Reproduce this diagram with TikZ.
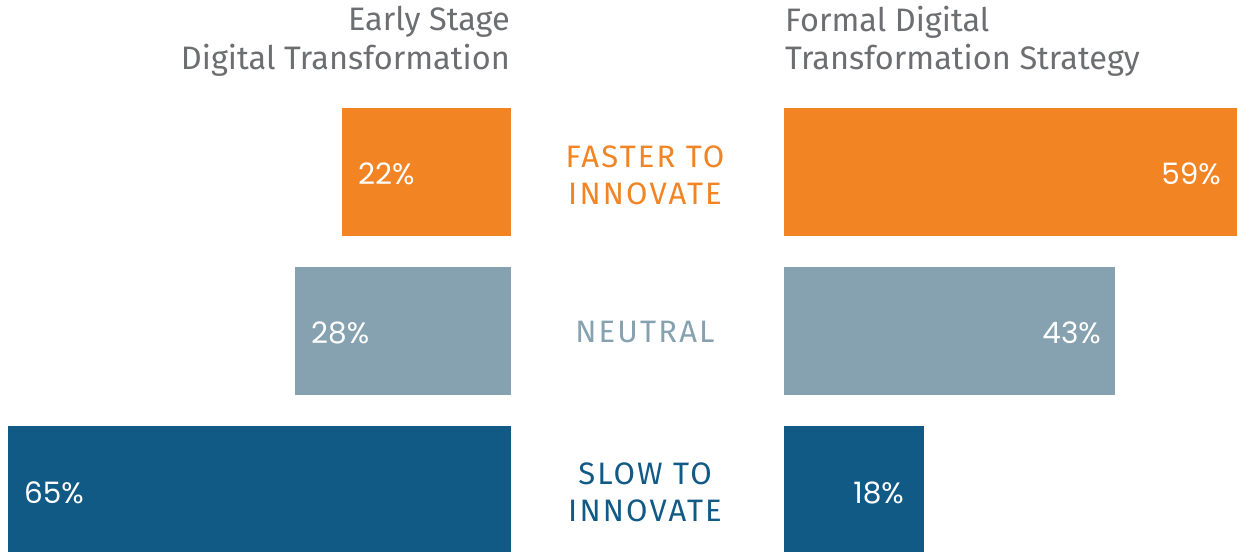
\documentclass[tikz,border=0pt]{standalone}
\usepackage{fontspec}
\setmainfont{Fira Sans}
\newfontfamily\pctfont{Poppins}
\definecolor{orangeC}{HTML}{F38424}
\definecolor{grayC}{HTML}{86A1AF}
\definecolor{blueC}{HTML}{125A86}
\definecolor{titleC}{HTML}{6D6E71}
\begin{document}
\begin{tikzpicture}[x=1pt,y=-1pt,
  title/.style={text=titleC,font=\fontsize{32.5}{38}\selectfont,inner sep=0pt},
  pct/.style={text=white,font=\pctfont\fontsize{29.5}{32}\selectfont,inner sep=0pt},
  cat/.style={font=\fontsize{31}{37}\selectfont\addfontfeatures{LetterSpace=7},align=center,inner sep=0pt}]
\useasboundingbox (0,0) rectangle (1237,552);
% titles
\node[title,anchor=east] (t1a) at (510,22) {Early Stage};
\node[title,anchor=east] (t1b) at (510,60) {Digital Transformation};
\node[title,anchor=west] (t2a) at (785,22) {Formal Digital};
\node[title,anchor=west] (t2b) at (785,60) {Transformation Strategy};
% bars
\fill[orangeC] (342,108) rectangle (511,236);
\fill[orangeC] (784,108) rectangle (1237,236);
\fill[grayC] (295,267) rectangle (511,395);
\fill[grayC] (784,267) rectangle (1115,395);
\fill[blueC] (8,426) rectangle (511,552);
\fill[blueC] (784,426) rectangle (924,552);
% percentages
\node[pct,anchor=west] (p1) at (358,174) {22\%};
\node[pct,anchor=east] (p2) at (1221,174) {59\%};
\node[pct,anchor=west] (p3) at (311,333) {28\%};
\node[pct,anchor=east] (p4) at (1101,333) {43\%};
\node[pct,anchor=west] (p5) at (24,493) {65\%};
\node[pct,anchor=east] (p6) at (904,493) {18\%};
% categories
\node[cat,text=orangeC] (c1) at (645,175) {FASTER TO\\INNOVATE};
\node[cat,text=grayC] (c2) at (645,332) {NEUTRAL};
\node[cat,text=blueC] (c3) at (645,492) {SLOW TO\\INNOVATE};
\end{tikzpicture}
\end{document}
